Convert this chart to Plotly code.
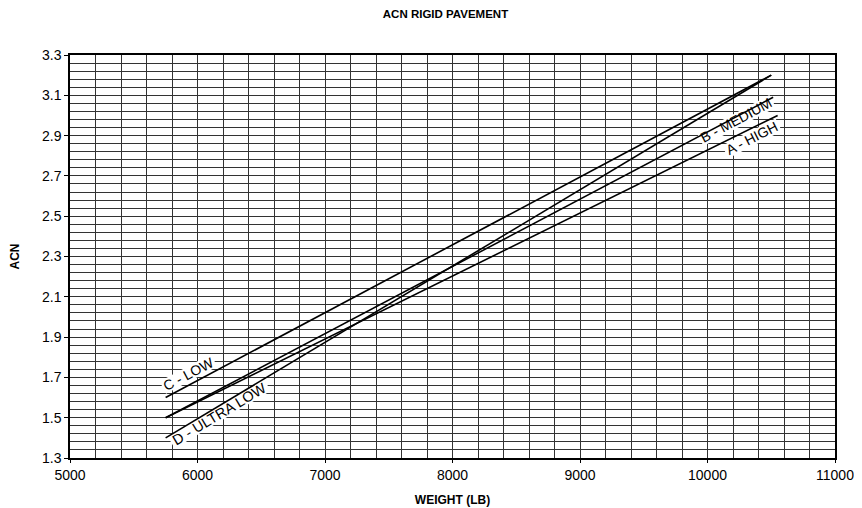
import math
import plotly.graph_objects as go

# ---- Data ----
series_names = ["A - HIGH", "B - MEDIUM", "C - LOW", "D - ULTRA LOW"]
weight_A = [5750, 10550]
acn_A = [1.50, 3.00]
weight_B = [5750, 10515]
acn_B = [1.50, 3.09]
weight_C = [5750, 10500]
acn_C = [1.60, 3.20]
weight_D = [5750, 10500]
acn_D = [1.40, 3.20]
series_weights = {"A - HIGH": weight_A, "B - MEDIUM": weight_B,
                  "C - LOW": weight_C, "D - ULTRA LOW": weight_D}
series_acn = {"A - HIGH": acn_A, "B - MEDIUM": acn_B,
              "C - LOW": acn_C, "D - ULTRA LOW": acn_D}

x_ticks = [5000, 6000, 7000, 8000, 9000, 10000, 11000]
y_ticks = [1.3, 1.5, 1.7, 1.9, 2.1, 2.3, 2.5, 2.7, 2.9, 3.1, 3.3]

# ---- label placement (styling) ----
label_pos = {
    "A - HIGH": (10349, 2.886),
    "B - MEDIUM": (10227, 2.975),
    "C - LOW": (5929, 1.717),
    "D - ULTRA LOW": (6170, 1.520),
}
label_angle = {"A - HIGH": 27, "B - MEDIUM": 28, "C - LOW": 28, "D - ULTRA LOW": 31}
label_size = {"A - HIGH": 14, "B - MEDIUM": 14, "C - LOW": 14, "D - ULTRA LOW": 14.5}
label_width_px = {"A - HIGH": 60, "B - MEDIUM": 82, "C - LOW": 58, "D - ULTRA LOW": 112}

FONT = "Liberation Sans, Arial, sans-serif"
# page body has an 8px margin, so the figure is 8px smaller than the window
W, H = 854, 500
ML, MR, MT, MB = 62, 27, 47, 50
XR = (5000, 11000)
YR = (1.3, 3.3)
pw, ph = W - ML - MR, H - MT - MB


def to_px(x, y):
    return (ML + (x - XR[0]) / (XR[1] - XR[0]) * pw,
            MT + (YR[1] - y) / (YR[1] - YR[0]) * ph)


def to_data(px, py):
    return (XR[0] + (px - ML) / pw * (XR[1] - XR[0]),
            YR[1] - (py - MT) / ph * (YR[1] - YR[0]))


fig = go.Figure()
for name in series_names:
    fig.add_trace(go.Scatter(
        x=series_weights[name], y=series_acn[name], mode="lines",
        line=dict(color="black", width=1.6), name=name, showlegend=False,
        hoverinfo="skip"))

for name in series_names:
    lx, ly = label_pos[name]
    ang = math.radians(label_angle[name])
    cx, cy = to_px(lx, ly)
    ux, uy = math.cos(ang), -math.sin(ang)
    nx, ny = math.sin(ang), math.cos(ang)
    hw, hh = label_width_px[name] / 2, 7
    pts = []
    for su, sn in [(-1, -1), (1, -1), (1, 1), (-1, 1)]:
        px = cx + su * hw * ux + sn * hh * nx
        py = cy + su * hw * uy + sn * hh * ny
        pts.append(to_data(px, py))
    path = "M " + " L ".join(f"{p[0]:.2f},{p[1]:.5f}" for p in pts) + " Z"
    fig.add_shape(type="path", path=path, xref="x", yref="y",
                  fillcolor="white", line=dict(width=0), layer="between")
    fig.add_annotation(x=lx, y=ly, text=name, showarrow=False,
                       textangle=-label_angle[name],
                       font=dict(family=FONT, size=label_size[name], color="black"))

fig.update_layout(
    width=W, height=H,
    margin=dict(l=ML, r=MR, t=MT, b=MB, autoexpand=False),
    paper_bgcolor="white", plot_bgcolor="white",
    font=dict(family=FONT, size=14, color="black"),
    title=dict(text="<b>ACN RIGID PAVEMENT</b>", x=437.5 / W, xref="container",
               y=1 - 5.5 / H, yref="container", xanchor="center", yanchor="middle",
               font=dict(family=FONT, size=11.5, color="black")),
)
fig.update_xaxes(
    range=list(XR), tickmode="array", tickvals=x_ticks,
    ticktext=[str(v) for v in x_ticks], automargin=False,
    showgrid=True, gridcolor="#333", gridwidth=1,
    minor=dict(dtick=200, showgrid=True, gridcolor="#333", gridwidth=1, ticks=""),
    ticks="outside", ticklen=3, tickcolor="black",
    showline=True, linecolor="black", linewidth=1.5, mirror=True,
    zeroline=False,
    title=dict(text="<b>WEIGHT (LB)</b>", font=dict(family=FONT, size=12), standoff=14),
    tickfont=dict(family=FONT, size=14),
)
fig.update_yaxes(
    range=list(YR), tickmode="array", tickvals=y_ticks,
    ticktext=[f"{v:.1f}" for v in y_ticks], automargin=False,
    showgrid=True, gridcolor="#333", gridwidth=1,
    minor=dict(dtick=0.04, tick0=1.3, showgrid=True, gridcolor="#333", gridwidth=1, ticks=""),
    ticks="outside", ticklen=4, tickcolor="black",
    showline=True, linecolor="black", linewidth=1.5, mirror=True,
    zeroline=False,
    title=dict(text="<b>ACN</b>", font=dict(family=FONT, size=12), standoff=32),
    tickfont=dict(family=FONT, size=14),
)

fig.write_html("out.html")
